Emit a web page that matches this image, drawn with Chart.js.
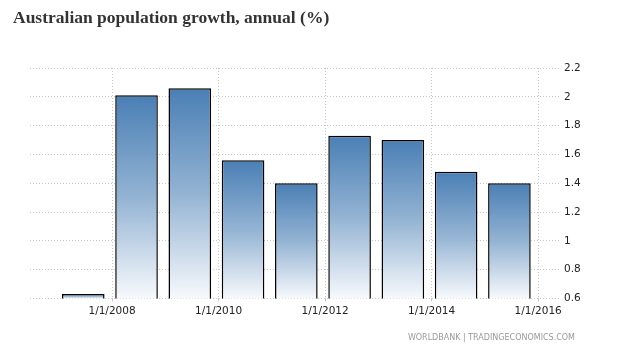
<!DOCTYPE html>
<html>
<head>
<meta charset="utf-8">
<script src="https://cdn.jsdelivr.net/npm/chart.js@4"></script>
<style>
html,body{margin:0;padding:0;background:#fff;}
#wrap{width:626px;height:356px;position:relative;}
</style>
</head>
<body>
<div id="wrap"><canvas id="c" width="626" height="356"></canvas></div>
<script>
// ---- data ----
const years = [2007, 2008, 2009, 2010, 2011, 2012, 2013, 2014, 2015];
const growth = [0.63, 2.01, 2.06, 1.56, 1.40, 1.73, 1.70, 1.48, 1.40];
const xTickYears = [2008, 2010, 2012, 2014, 2016];
const yTicks = [0.6, 0.8, 1.0, 1.2, 1.4, 1.6, 1.8, 2.0, 2.2];
const titleText = 'Australian population growth, annual (%)';
const sourceText = 'WORLDBANK | TRADINGECONOMICS.COM';
const barOffset = 0.46; // bar centre within the year

const points = years.map((y, i) => ({x: y + barOffset, y: growth[i]}));

function barGradient(ctx) {
  const chart = ctx.chart;
  const ys = chart.scales.y;
  if (!ys || !chart.chartArea || ctx.parsed == null) return '#4a7fb5';
  const top = ys.getPixelForValue(ctx.parsed.y);
  const bottom = ys.getPixelForValue(ys.min);
  if (!isFinite(top) || !isFinite(bottom) || Math.abs(bottom - top) < 0.5) return '#9fb9d4';
  const g = chart.ctx.createLinearGradient(0, top, 0, bottom);
  g.addColorStop(0, '#4a7fb5');
  g.addColorStop(0.5, '#93b3d3');
  g.addColorStop(1, '#f7f9fc');
  return g;
}

const gridColor = '#c8c8c8';

new Chart(document.getElementById('c'), {
  type: 'bar',
  data: {
    datasets: [{
      data: points,
      xAxisID: 'x',
      yAxisID: 'y',
      backgroundColor: barGradient,
      borderColor: '#000',
      borderWidth: 1.5,
      borderSkipped: false,
      categoryPercentage: 1,
      barPercentage: 0.8
    }]
  },
  options: {
    responsive: false,
    animation: false,
    devicePixelRatio: 1,
    layout: {padding: {left: 13, right: 0, top: 0, bottom: 0}},
    plugins: {
      legend: {display: false},
      tooltip: {enabled: false},
      title: {
        display: true,
        text: titleText,
        align: 'start',
        color: '#333',
        font: {family: '"Liberation Serif", serif', size: 17.5, weight: 'bold'},
        padding: {top: 8, bottom: 39}
      },
      subtitle: {
        display: true,
        text: sourceText,
        position: 'bottom',
        align: 'end',
        color: '#9a9a9a',
        font: {family: '"DejaVu Sans", sans-serif', size: 8},
        padding: {top: 10, bottom: 13}
      }
    },
    scales: {
      x: {
        type: 'linear',
        position: 'bottom',
        offset: false,
        min: 2006.46,
        max: 2016.41,
        afterBuildTicks: s => { s.ticks = xTickYears.map(v => ({value: v})); },
        afterFit: s => { s.height = 25; },
        ticks: {
          callback: v => '1/1/' + v,
          color: '#222',
          font: {family: '"DejaVu Sans", sans-serif', size: 10.5},
          padding: 4,
          maxRotation: 0,
          autoSkip: false
        },
        grid: {
          offset: false,
          color: gridColor,
          lineWidth: 1,
          tickLength: 3,
          tickColor: gridColor
        },
        border: {display: false, dash: [1, 2]}
      },
      pad: {
        type: 'linear',
        position: 'left',
        display: true,
        afterFit: s => { s.width = 17; },
        ticks: {display: false},
        grid: {display: false},
        border: {display: false}
      },
      y: {
        type: 'linear',
        position: 'right',
        min: 0.6,
        max: 2.2,
        afterBuildTicks: s => { s.ticks = yTicks.map(v => ({value: v})); },
        afterFit: s => { s.width = 66; },
        ticks: {
          callback: v => String(Number(v.toFixed(2))),
          color: '#222',
          font: {family: '"DejaVu Sans", sans-serif', size: 10.5},
          padding: 4
        },
        grid: {
          color: gridColor,
          lineWidth: 1,
          drawTicks: false
        },
        border: {display: false, dash: [1, 2]}
      }
    }
  },
  plugins: [{
    id: 'sourceCredit',
    afterLayout(chart) {
      // source credit ends under the value axis labels
      chart.boxes.forEach(b => {
        if (b.options && b.options.text === sourceText) {
          b.right = 575;
          b.width = b.right - b.left;
        }
      });
    }
  }]
});
</script>
</body>
</html>
